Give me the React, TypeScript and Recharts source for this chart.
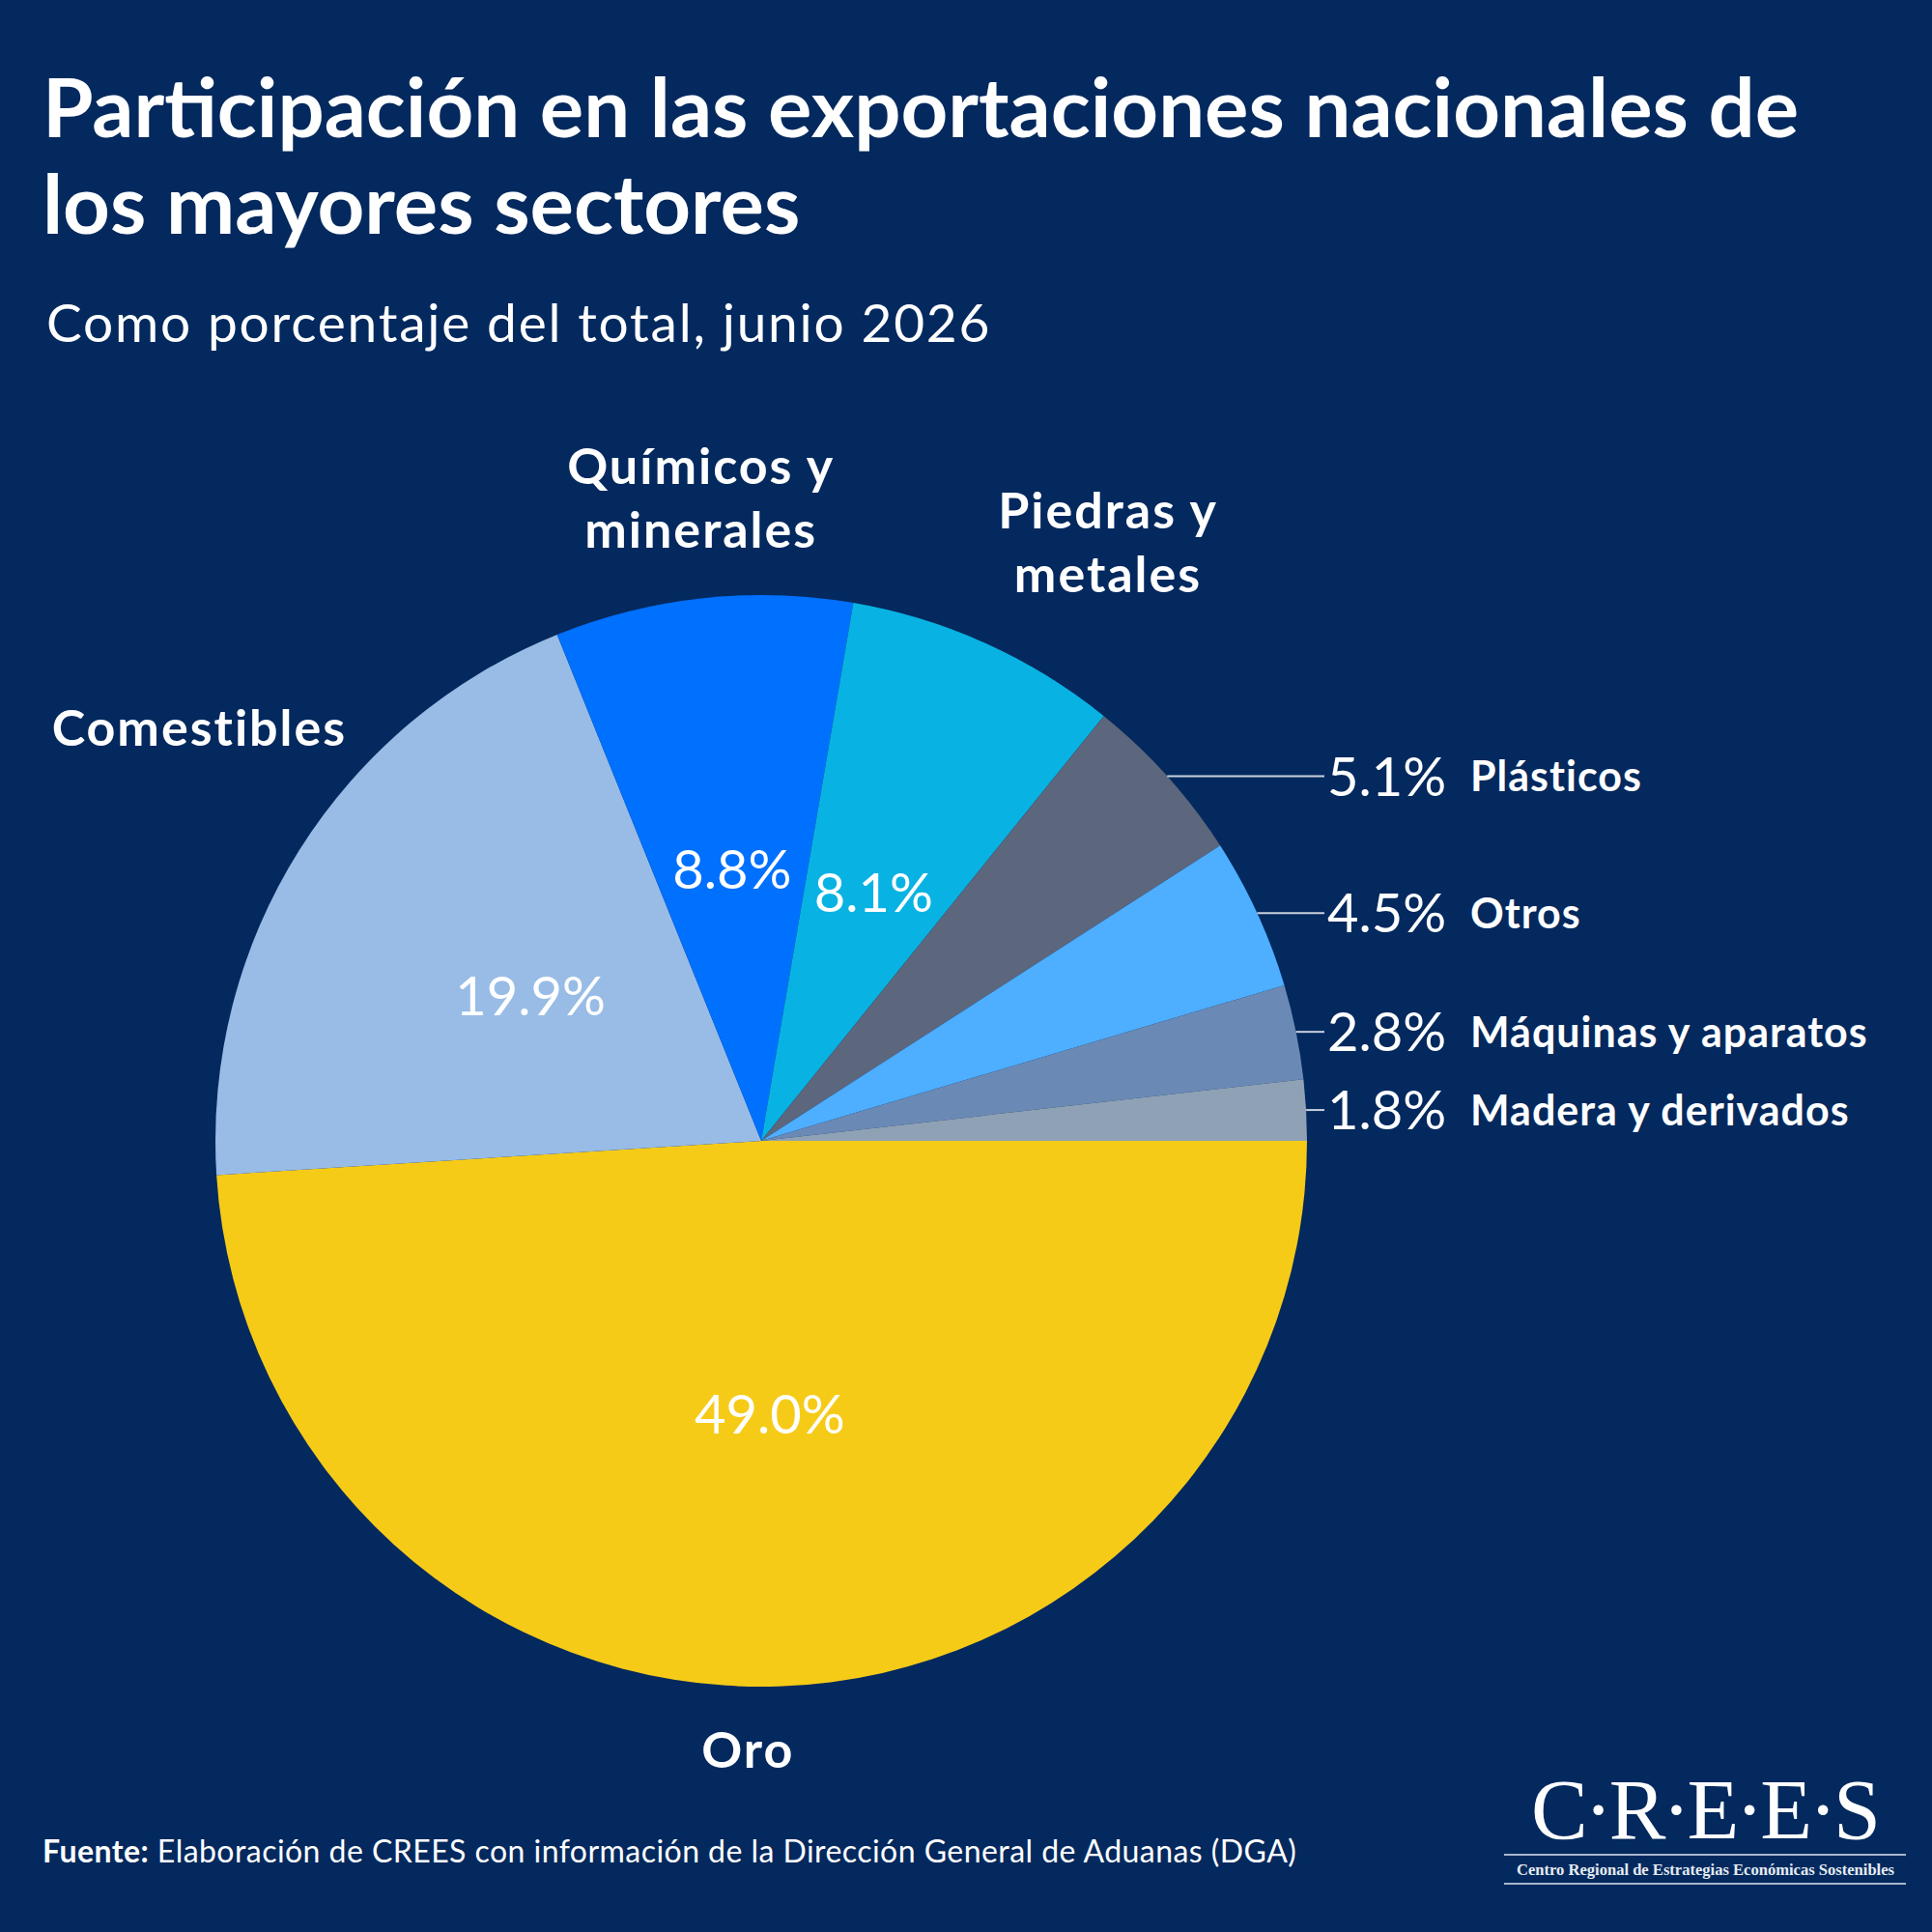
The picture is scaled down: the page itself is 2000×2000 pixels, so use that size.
import { PieChart, Pie, Cell } from 'recharts';

const SECTORS = [
  'Oro',
  'Comestibles',
  'Químicos y minerales',
  'Piedras y metales',
  'Plásticos',
  'Otros',
  'Máquinas y aparatos',
  'Madera y derivados',
];
const SHARES = [49.0, 19.9, 8.8, 8.1, 5.1, 4.5, 2.8, 1.8];
const COLORS = [
  '#F6CB18',
  '#98BCE6',
  '#0070FF',
  '#08B3E3',
  '#5C667C',
  '#4EAEFF',
  '#6A8AB5',
  '#8FA1B5',
];

const TITLE_LINES = [
  'Participación en las exportaciones nacionales de',
  'los mayores sectores',
];
const SUBTITLE = 'Como porcentaje del total, junio 2026';

// small nudges for the outer names of the big slices
const NAME_NUDGE: [number, number][] = [
  [-35, -47],
  [-8, -66],
  [10, 8],
  [80, -2],
];

const BG = '#03295E';
const FONT = 'Lato, "Open Sans", sans-serif';
const RADIAN = Math.PI / 180;

const chartData = SECTORS.map((name, i) => ({ name, value: SHARES[i] }));

// break a name into lines of about 12 characters
function wrap(text: string, max = 12) {
  const lines: string[] = [];
  let cur = '';
  text.split(' ').forEach((w) => {
    const next = cur ? cur + ' ' + w : w;
    if (next.length > max && cur) {
      lines.push(cur);
      cur = w;
    } else {
      cur = next;
    }
  });
  if (cur) lines.push(cur);
  return lines;
}

function renderLabel(props: any) {
  const { cx, cy, midAngle, outerRadius, index } = props;
  const value = SHARES[index];
  const name = SECTORS[index];
  const dx = Math.cos(-midAngle * RADIAN);
  const dy = Math.sin(-midAngle * RADIAN);
  const pct = value.toFixed(1) + '%';

  if (value >= 8) {
    const ix = cx + outerRadius * 0.5 * dx;
    const iy = cy + outerRadius * 0.5 * dy;
    const nudge = NAME_NUDGE[index] || [0, 0];
    const nx = cx + outerRadius * 1.2 * dx + nudge[0];
    const ny = cy + outerRadius * 1.2 * dy + nudge[1];
    const lines = wrap(name);
    const lh = 66;
    const first = ny - ((lines.length - 1) * lh) / 2 + 52 * 0.36;
    return (
      <g key={`lbl-${index}`}>
        <text
          x={ix}
          y={iy + 56 * 0.36}
          textAnchor="middle"
          fill="#FFFFFF"
          fontFamily={FONT}
          fontWeight={400}
          fontSize={56}
        >
          {pct}
        </text>
        <text
          textAnchor="middle"
          fill="#FFFFFF"
          fontFamily={FONT}
          fontWeight={700}
          fontSize={52}
          letterSpacing={2}
        >
          {lines.map((l, k) => (
            <tspan key={k} x={nx} y={first + k * lh}>
              {l}
            </tspan>
          ))}
        </text>
      </g>
    );
  }

  const ex = cx + outerRadius * dx;
  const ey = cy + outerRadius * dy;
  const lineEnd = cx + outerRadius + 18;
  return (
    <g key={`lbl-${index}`}>
      <line x1={ex} y1={ey} x2={lineEnd} y2={ey} stroke="#C9D1DD" strokeWidth={2} />
      <text
        x={lineEnd + 3}
        y={ey + 56 * 0.36}
        fill="#FFFFFF"
        fontFamily={FONT}
        fontWeight={400}
        fontSize={56}
      >
        {pct}
      </text>
      <text
        x={lineEnd + 151}
        y={ey + 43 * 0.36}
        fill="#FFFFFF"
        fontFamily={FONT}
        fontWeight={700}
        fontSize={43}
        letterSpacing={1}
      >
        {name}
      </text>
    </g>
  );
}

export default function App() {
  return (
    <div
      style={{
        position: 'absolute',
        left: 0,
        top: 0,
        width: 2000,
        height: 2000,
        background: BG,
        overflow: 'hidden',
      }}
    >
      <div style={{ position: 'absolute', left: 0, top: 0 }}>
        <PieChart width={2000} height={2000} margin={{ top: 0, right: 0, bottom: 0, left: 0 }}>
          <Pie
            data={chartData}
            dataKey="value"
            nameKey="name"
            cx={788}
            cy={1181}
            outerRadius={565}
            startAngle={0}
            endAngle={-360}
            stroke="none"
            label={renderLabel}
            labelLine={false}
            isAnimationActive={false}
          >
            {chartData.map((_, i) => (
              <Cell key={i} fill={COLORS[i]} />
            ))}
          </Pie>
        </PieChart>
      </div>

      <svg
        width={2000}
        height={2000}
        style={{ position: 'absolute', left: 0, top: 0, pointerEvents: 'none' }}
      >
        {TITLE_LINES.map((t, i) => (
          <text
            key={i}
            x={44}
            y={142 + i * 100}
            fill="#FFFFFF"
            fontFamily={FONT}
            fontWeight={700}
            fontSize={85}
          >
            {t}
          </text>
        ))}
        <text
          x={48}
          y={354}
          fill="#FFFFFF"
          fontFamily={FONT}
          fontSize={55}
          letterSpacing={1.8}
        >
          {SUBTITLE}
        </text>

        <text
          x={44}
          y={1928}
          fill="#FFFFFF"
          fontFamily={FONT}
          fontSize={32}
          letterSpacing={0.45}
        >
          <tspan fontWeight={700}>Fuente:</tspan>
          <tspan> Elaboración de CREES con información de la Dirección General de Aduanas (DGA)</tspan>
        </text>

        {/* logo */}
        <text
          x={1585}
          y={1903}
          fill="#FFFFFF"
          fontFamily='"Liberation Serif", "Times New Roman", serif'
          fontSize={88}
          textLength={362}
          lengthAdjust="spacing"
        >
          C·R·E·E·S
        </text>
        <line x1={1557} y1={1920} x2={1973} y2={1920} stroke="#A9B6CC" strokeWidth={2} />
        <line x1={1557} y1={1950} x2={1973} y2={1950} stroke="#A9B6CC" strokeWidth={2} />
        <text
          x={1570}
          y={1941}
          fill="#E6EBF2"
          fontFamily='"Liberation Serif", "Times New Roman", serif'
          fontWeight={700}
          fontSize={17}
          textLength={391}
          lengthAdjust="spacingAndGlyphs"
        >
          Centro Regional de Estrategias Económicas Sostenibles
        </text>
      </svg>
    </div>
  );
}
